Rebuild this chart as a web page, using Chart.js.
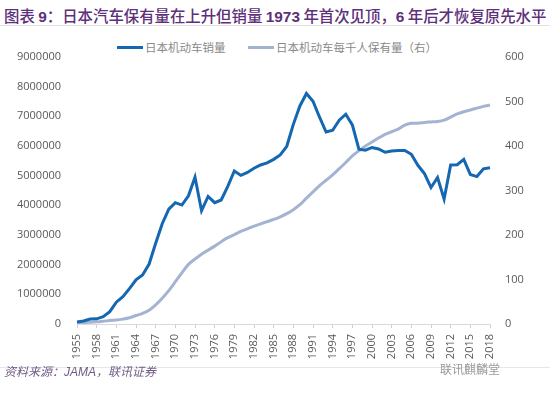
<!DOCTYPE html>
<html>
<head>
<meta charset="utf-8">
<script src="https://cdn.jsdelivr.net/npm/chart.js@4/dist/chart.umd.min.js"></script>
<style>
body{margin:0;background:#fff;width:550px;height:393px;position:relative;overflow:hidden;font-family:"Open Sans","Noto Sans CJK SC",sans-serif;}
#title{position:absolute;left:4px;top:4px;font-size:15.4px;color:#5e2f7a;white-space:nowrap;font-family:"Noto Sans CJK SC",sans-serif;font-weight:500;}
#title b{font-family:"Liberation Sans",Arial,sans-serif;font-weight:bold;}
#topline{position:absolute;left:0;top:25px;width:550px;height:1px;background:#e3e3e3;}
#legend{position:absolute;top:39px;left:0;width:550px;font-size:11.5px;color:#8a8a8a;font-family:"Noto Sans CJK SC",sans-serif;}
.item{position:absolute;top:0;white-space:nowrap;}
.swatch{display:inline-block;width:26px;height:3px;vertical-align:middle;margin-right:2px;position:relative;top:-1px;}
#wrap{position:absolute;left:0;top:30px;width:550px;height:338px;}
#footline{position:absolute;left:0;top:367px;width:550px;height:1px;background:#e6e6e6;}
#source{position:absolute;left:4px;top:362px;font-size:12px;color:#6f5a86;font-style:italic;font-family:"Noto Sans CJK SC",sans-serif;}
#source span{font-family:"Liberation Sans",Arial,sans-serif;}
#mark{position:absolute;left:440px;top:360px;font-size:12px;color:#9a9a9a;font-family:"Noto Sans CJK SC",sans-serif;}
</style>
</head>
<body>
<div id="title">图表 <b>9</b>：日本汽车保有量在上升但销量 <b>1973</b> 年首次见顶，<b>6</b> 年后才恢复原先水平</div>
<div id="topline"></div>
<div id="legend">
  <span class="item" style="left:117px"><span class="swatch" style="background:#1467b0"></span>日本机动车销量</span>
  <span class="item" style="left:248px"><span class="swatch" style="background:#a3b4d2"></span>日本机动车每千人保有量（右）</span>
</div>
<div id="wrap"><canvas id="chart" width="550" height="338"></canvas></div>
<div id="footline"></div>
<div id="source">资料来源：<span>JAMA</span>，联讯证券</div>
<div id="mark">联讯麒麟堂</div>

<script>
let years = [];
for(let y=1955; y<=2018; y++){ years.push(String(y)); }

// 日本机动车销量（辆）
let sales = [
    70000, 100000, 165000, 175000, 245000, 415000, 735000, 920000, 1190000, 1490000,
    1650000, 2020000, 2720000, 3380000, 3870000, 4090000, 4010000, 4320000, 4950000, 3820000,
    4300000, 4090000, 4180000, 4640000, 5160000, 5010000, 5110000, 5250000, 5360000, 5430000,
    5550000, 5700000, 5990000, 6730000, 7350000, 7770000, 7510000, 6970000, 6470000, 6530000,
    6870000, 7070000, 6710000, 5890000, 5860000, 5950000, 5900000, 5790000, 5830000, 5850000,
    5850000, 5720000, 5350000, 5070000, 4600000, 4940000, 4210000, 5360000, 5370000, 5550000,
    5040000, 4970000, 5230000, 5270000
];

// 每千人保有量（右轴）
let perThousand = [
    3, 3, 4, 5, 6, 8, 9, 11, 14, 19,
    24, 31, 43, 58, 75, 95, 115, 134, 146, 157,
    166, 175, 185, 194, 201, 208, 214, 220, 225, 230,
    235, 241, 248, 257, 268, 283, 297, 311, 323, 335,
    349, 363, 378, 389, 400, 409, 418, 426, 432, 438,
    447, 451, 451, 453, 454, 455, 458, 465, 472, 477,
    481, 485, 489, 492
];

let salesLabel = "日本机动车销量";
let ownLabel = "日本机动车每千人保有量（右）";


function loadChart(){

    let ctx = document.getElementById("chart");
    let tickFont = {family:"'Open Sans', sans-serif", size:11};

    new Chart(ctx,{
        type:'line',
        data:{
            labels:years,
            datasets:[
                {
                    label:salesLabel,
                    data:sales,
                    yAxisID:'y',
                    borderColor:'#1467b0',
                    borderWidth:3,
                    pointRadius:0,
                    tension:0,
                    fill:false
                },
                {
                    label:ownLabel,
                    data:perThousand,
                    yAxisID:'y1',
                    borderColor:'#a3b4d2',
                    borderWidth:3,
                    pointRadius:0,
                    tension:0.3,
                    fill:false
                }
            ]
        },
        options:{
            responsive:false,
            animation:false,
            layout:{padding:{top:27,left:0,right:0,bottom:0}},
            plugins:{
                legend:{display:false},
                tooltip:{enabled:false}
            },
            scales:{
                x:{
                    offset:false,
                    grid:{
                        display:true,
                        drawOnChartArea:false,
                        drawTicks:true,
                        tickLength:4,
                        color:function(c){ return c.index % 3 === 0 ? '#d0d0d0' : 'rgba(0,0,0,0)'; }
                    },
                    border:{display:true,color:'#d9d9d9'},
                    ticks:{
                        autoSkip:false,
                        minRotation:90,
                        maxRotation:90,
                        padding:6,
                        color:'#595959',
                        font:tickFont,
                        callback:function(v,i){ return i % 3 === 0 ? years[i] : ''; }
                    },
                    afterFit:function(s){ s.height = 44; }
                },
                y:{
                    position:'left',
                    min:0,
                    max:9000000,
                    grid:{display:false,drawTicks:false},
                    border:{display:false},
                    ticks:{
                        stepSize:1000000,
                        padding:16,
                        color:'#595959',
                        font:tickFont,
                        callback:function(v){ return String(v); }
                    },
                    afterFit:function(s){ s.width = 77; }
                },
                y1:{
                    position:'right',
                    min:0,
                    max:600,
                    grid:{display:false,drawTicks:false},
                    border:{display:false},
                    ticks:{
                        stepSize:100,
                        padding:15,
                        color:'#595959',
                        font:tickFont
                    },
                    afterFit:function(s){ s.width = 60; }
                }
            }
        }
    });

}


window.onload=function(){
    loadChart();
};
</script>
</body>
</html>
